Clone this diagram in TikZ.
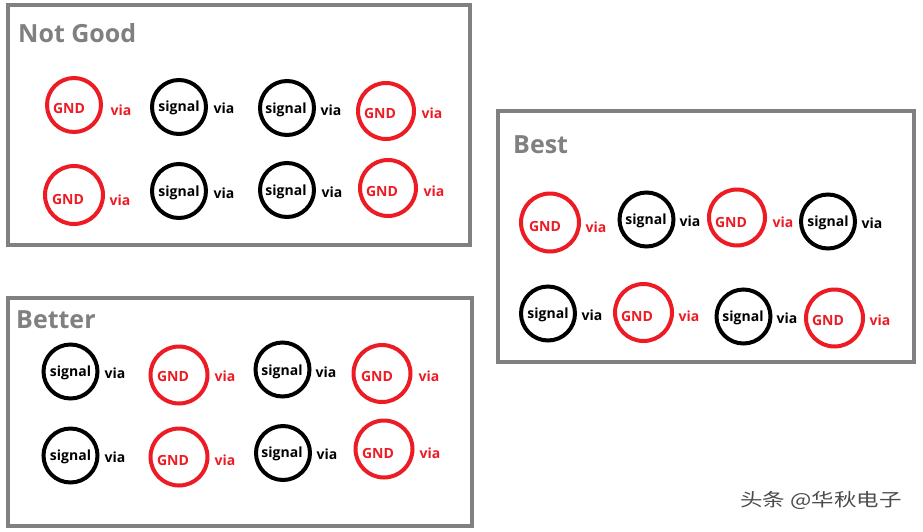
\documentclass[tikz,border=0pt]{standalone}
\usepackage{fontspec}
\setmainfont{Open Sans}
\newfontfamily\cjkfont{Noto Sans CJK SC}
\definecolor{viared}{RGB}{237,28,36}
\definecolor{boxgray}{RGB}{128,128,128}
\tikzset{
  panel/.style={draw=boxgray, line width=4pt},
  paneltitle/.style={text=boxgray, font=\fontsize{25}{28}\selectfont\bfseries, anchor=base west, inner sep=0pt},
  gndring/.style={circle, draw=viared, line width=4pt, inner sep=0pt},
  sigring/.style={circle, draw=black, line width=4pt, inner sep=0pt},
  gndtxt/.style={text=viared, font=\fontsize{14}{16}\selectfont\bfseries, inner sep=0pt},
  sigtxt/.style={text=black, font=\fontsize{14}{16}\selectfont\bfseries, inner sep=0pt},
}
% name, cx, cy, outer r, tx, ty, vx, vy
\newcommand\gndvia[8]{%
  \node[gndring, minimum size=(2*#4-4)*1pt] (#1) at (#2,#3) {};
  \node[gndtxt] (#1t) at (#5,#6) {GND};
  \node[gndtxt] (#1v) at (#7,#8) {via};
}
\newcommand\sigvia[8]{%
  \node[sigring, minimum size=(2*#4-4)*1pt] (#1) at (#2,#3) {};
  \node[sigtxt] (#1t) at (#5,#6) {signal};
  \node[sigtxt] (#1v) at (#7,#8) {via};
}
\begin{document}
\begin{tikzpicture}[x=1pt,y=-1pt]
\useasboundingbox[fill=white] (0,0) rectangle (923,531);
% panels
\draw[panel] (8,5) rectangle (470,245);
\draw[panel] (8,298) rectangle (472,526);
\draw[panel] (498,111) rectangle (914,362);
\node[paneltitle] (tng) at (18,42) {Not Good};
\node[paneltitle] (tbr) at (16,328) {Better};
\node[paneltitle] (tbs) at (513,153) {Best};
% Not Good
\gndvia{a1}{74}{105}{29}{69}{108}{121}{110}
\sigvia{a2}{179}{107}{29}{179}{108}{224}{108}
\sigvia{a3}{287}{108}{29}{286}{110}{331}{110}
\gndvia{a4}{386}{111}{30}{380}{113}{432}{113}
\gndvia{a5}{74}{195}{31}{68}{199}{120}{200}
\sigvia{a6}{179}{191}{29}{179}{193}{224}{193}
\sigvia{a7}{287}{190}{29}{286}{192}{332}{192}
\gndvia{a8}{388}{188}{30}{382}{191}{434}{191}
% Better
\sigvia{b1}{70.5}{371.5}{29}{70.5}{373}{115}{373}
\gndvia{b2}{179}{375}{30.5}{173}{376}{225}{376}
\sigvia{b3}{282.5}{369.5}{29}{282}{372}{326}{372}
\gndvia{b4}{382}{373.5}{30.5}{377}{376}{429}{376}
\sigvia{b5}{70.5}{455.5}{29}{70.5}{457}{115}{457}
\gndvia{b6}{179}{457}{30.5}{173}{460}{225}{460}
\sigvia{b7}{283}{453}{29}{282}{454}{327}{454}
\gndvia{b8}{384}{449}{30.5}{378}{453}{430}{453}
% Best
\gndvia{c1}{550}{222.5}{31}{545}{226}{596}{227}
\sigvia{c2}{646.5}{219.5}{29}{646}{221}{690}{221}
\gndvia{c3}{737}{217.5}{30}{731}{222}{783}{222}
\sigvia{c4}{828}{221.5}{29}{828}{223}{872}{223}
\sigvia{c5}{548}{313.5}{29}{548}{315}{592}{315}
\gndvia{c6}{643.5}{312.5}{30.5}{637}{316}{689}{316}
\sigvia{c7}{743.5}{316.5}{29}{743}{318}{787}{318}
\gndvia{c8}{834.5}{318}{30.5}{828}{320}{880}{320}
% watermark
\node[text=black!70, font=\cjkfont\fontsize{18}{21}\selectfont, inner sep=0pt, xscale=1.25] (wm) at (821,500) {头条 @华秋电子};
\end{tikzpicture}
\end{document}
